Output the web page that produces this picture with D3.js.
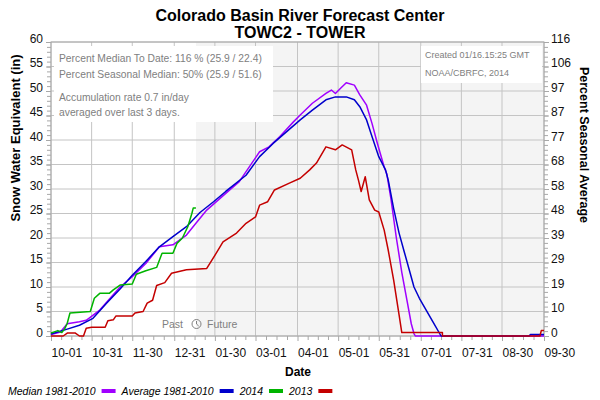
<!doctype html>
<html lang="en">
<head>
<meta charset="utf-8">
<title>Colorado Basin River Forecast Center - TOWC2</title>
<script src="https://cdn.jsdelivr.net/npm/d3@7"></script>
<style>
  body { margin: 0; background: #fff; }
  svg { display: block; font-family: "Liberation Sans", Arial, sans-serif; }
</style>
</head>
<body>
<svg id="chart" width="600" height="400"></svg>
<script>
// dates are water-year "MM-DD" (Oct-Dec = 2013, Jan-Sep = 2014)
var xTickLabels = ["10-01", "10-31", "11-30", "12-31", "01-30", "03-01", "04-01",
                   "05-01", "05-31", "07-01", "07-31", "08-30", "09-30"];
var leftTicks = [0, 5, 10, 15, 20, 25, 30, 35, 40, 45, 50, 55, 60];
var rightTickLabels = ["0", "10", "19", "29", "39", "48", "58", "68", "77", "87", "97", "106", "116"];
var today = "01-16";

var seriesNames = ["Median 1981-2010", "Average 1981-2010", "2014", "2013"];

var median = [
  ["10-01", 0.3], ["10-08", 0.8], ["10-13", 2.5], ["10-22", 2.9], ["10-27", 3.2],
  ["11-06", 5.3], ["11-21", 10.0], ["11-30", 12.1], ["12-10", 14.8], ["12-20", 18.2],
  ["12-30", 18.6], ["01-09", 20.6], ["01-16", 23.0], ["01-24", 25.7], ["02-07", 29.1],
  ["02-17", 31.5], ["03-04", 37.6], ["03-11", 38.6], ["03-19", 40.7], ["03-29", 43.7],
  ["04-03", 45.1], ["04-12", 47.5], ["04-22", 49.5], ["04-26", 50.2], ["04-29", 49.5],
  ["05-03", 50.6], ["05-07", 51.7], ["05-13", 51.2], ["05-17", 49.2], ["05-22", 47.1],
  ["05-26", 43.4], ["05-30", 39.3], ["06-04", 34.5], ["06-06", 33.0], ["06-09", 28.0],
  ["06-13", 20.0], ["06-17", 13.0], ["06-21", 7.0], ["06-24", 2.5], ["06-26", 0.5],
  ["06-27", 0], ["09-30", 0]
];

var average = [
  ["10-01", 0.4], ["10-13", 1.4], ["10-22", 2.2], ["11-01", 3.6], ["11-11", 6.7],
  ["11-21", 9.6], ["11-30", 12.4], ["12-10", 15.2], ["12-20", 18.2], ["12-30", 20.3],
  ["01-09", 22.3], ["01-19", 25.2], ["01-29", 27.4], ["02-07", 29.5], ["02-22", 32.8],
  ["03-04", 36.6], ["03-14", 39.3], ["03-24", 41.7], ["04-03", 44.1], ["04-12", 46.1],
  ["04-22", 48.2], ["04-29", 48.8], ["05-07", 48.8], ["05-13", 48.2], ["05-17", 46.8],
  ["05-22", 44.1], ["05-26", 40.7], ["05-31", 36.6], ["06-05", 33.9], ["06-07", 31.8],
  ["06-11", 26.0], ["06-15", 21.0], ["06-19", 17.0], ["06-23", 13.0], ["06-26", 10.0],
  ["06-30", 7.7], ["07-05", 5.3], ["07-10", 2.9], ["07-16", 0], ["09-19", 0],
  ["09-20", 0.3], ["09-30", 0.3]
];

var wy2014 = [
  ["10-01", 0.6], ["10-04", 0.9], ["10-06", 1.1], ["10-09", 0.7], ["10-11", 1.4],
  ["10-13", 2.6], ["10-15", 4.7], ["10-30", 5.0], ["11-02", 7.7], ["11-06", 8.7],
  ["11-13", 8.7], ["11-16", 9.4], ["11-21", 10.4], ["11-30", 10.6], ["12-03", 12.6],
  ["12-10", 13.3], ["12-18", 14.0], ["12-22", 16.9], ["12-30", 16.9], ["01-02", 18.9],
  ["01-06", 20.0], ["01-10", 22.3], ["01-13", 25.0], ["01-14", 26.1], ["01-16", 26.1]
];

var wy2013 = [
  ["10-01", 0], ["10-10", 0], ["10-13", 0.6], ["10-19", 0.6], ["10-22", 0],
  ["10-25", 0], ["10-27", 1.6], ["10-31", 1.8], ["11-10", 1.8], ["11-12", 3.1],
  ["11-16", 3.3], ["11-18", 4.1], ["11-30", 4.1], ["12-02", 4.7], ["12-08", 5.0],
  ["12-11", 6.7], ["12-15", 7.3], ["12-18", 10.3], ["12-24", 10.9], ["12-29", 12.8],
  ["01-09", 13.5], ["01-24", 13.8], ["01-31", 16.9], ["02-05", 19.2], ["02-15", 21.0],
  ["02-22", 23.0], ["03-01", 24.3], ["03-04", 26.7], ["03-10", 27.4], ["03-15", 29.8],
  ["03-26", 31.2], ["04-03", 32.2], ["04-10", 33.9], ["04-15", 35.3], ["04-22", 38.6],
  ["04-29", 38.0], ["05-04", 39.0], ["05-11", 38.0], ["05-14", 33.9], ["05-16", 31.8],
  ["05-18", 29.5], ["05-21", 32.5], ["05-24", 27.8], ["05-28", 25.7], ["05-31", 25.3],
  ["06-04", 21.6], ["06-07", 17.5], ["06-11", 11.4], ["06-15", 4.3], ["06-17", 0.7],
  ["07-17", 0.7], ["07-17", 0], ["09-27", 0], ["09-28", 1.1], ["09-30", 1.1]
];

function toDate(s) {
  var m = +s.slice(0, 2), d = +s.slice(3);
  return new Date(m >= 10 ? 2013 : 2014, m - 1, d);
}

var svg = d3.select("#chart");
var plotL = 51, plotR = 544, plotT = 42, plotB = 336;

var x = d3.scaleTime().domain([toDate("10-01"), toDate("09-30")]).range([plotL, plotR]);
var y = d3.scaleLinear().domain([0, 60]).range([plotB, plotT]);
var yRight = d3.scalePoint().domain(rightTickLabels).range([plotB, plotT]);

var gridColor = "#c4c4c4", frameColor = "#a8a8a8";

// future shading
svg.append("rect")
  .attr("x", x(toDate(today))).attr("y", plotT)
  .attr("width", plotR - x(toDate(today))).attr("height", plotB - plotT)
  .attr("fill", "#f4f4f4");

// grid
var xTicks = xTickLabels.map(toDate);
svg.append("g").selectAll("line").data(xTicks).join("line")
  .attr("x1", d => x(d)).attr("x2", d => x(d))
  .attr("y1", plotT).attr("y2", plotB)
  .attr("stroke", gridColor);
svg.append("g").selectAll("line").data(leftTicks).join("line")
  .attr("x1", plotL).attr("x2", plotR)
  .attr("y1", d => y(d)).attr("y2", d => y(d))
  .attr("stroke", gridColor);

// minor ticks
var minorX = [];
for (var i = 0; i < xTicks.length - 1; i++) {
  for (var k = 1; k < 4; k++) {
    minorX.push(new Date(+xTicks[i] + (xTicks[i + 1] - xTicks[i]) * k / 4));
  }
}
function styleAxis(g) {
  g.select(".domain").remove();
  g.selectAll(".tick line").attr("stroke", frameColor);
}
svg.append("g").attr("transform", "translate(0," + plotB + ")")
  .call(d3.axisBottom(x).tickValues(minorX).tickSize(4).tickFormat(""))
  .call(styleAxis);
svg.append("g").attr("transform", "translate(" + plotL + ",0)")
  .call(d3.axisLeft(y).tickValues(d3.range(0, 61)).tickSize(4).tickFormat(""))
  .call(styleAxis);
svg.append("g").attr("transform", "translate(" + plotR + ",0)")
  .call(d3.axisRight(y).tickValues(d3.range(0, 61)).tickSize(4).tickFormat(""))
  .call(styleAxis);

// major axes
svg.append("g").attr("transform", "translate(0," + plotB + ")")
  .call(d3.axisBottom(x).tickValues(xTicks).tickSize(5).tickFormat(d3.timeFormat("%m-%d")))
  .call(styleAxis)
  .call(g => g.selectAll(".tick text")
    .attr("text-anchor", "start").attr("x", 0).attr("y", 21).attr("dy", 0)
    .attr("font-size", 12).attr("font-family", null).attr("fill", "#111"));

svg.append("g").attr("transform", "translate(" + plotL + ",0)")
  .call(d3.axisLeft(y).tickValues(leftTicks).tickSize(5).tickPadding(3))
  .call(styleAxis)
  .call(g => g.selectAll(".tick text").attr("dy", 0)
    .attr("font-size", 12).attr("font-family", null).attr("fill", "#111"));

svg.append("g").attr("transform", "translate(" + plotR + ",0)")
  .call(d3.axisRight(yRight).tickSize(5).tickPadding(2))
  .call(styleAxis)
  .call(g => g.selectAll(".tick text").attr("dy", 0)
    .attr("font-size", 12).attr("font-family", null).attr("fill", "#111"));

// frame
svg.append("rect")
  .attr("x", plotL).attr("y", plotT).attr("width", plotR - plotL).attr("height", plotB - plotT)
  .attr("fill", "none").attr("stroke", frameColor);

// series
var colors = ["#a000ff", "#0000cc", "#00b400", "#c40000"];
var allSeries = [median, average, wy2014, wy2013];
var line = d3.line().x(d => x(toDate(d[0]))).y(d => y(d[1]));
svg.append("g").selectAll("path").data(allSeries).join("path")
  .attr("d", line)
  .attr("fill", "none")
  .attr("stroke", (d, i) => colors[i])
  .attr("stroke-width", 1.5)
  .attr("stroke-linejoin", "round");

// info boxes
svg.append("rect").attr("x", 54).attr("y", 46).attr("width", 219).attr("height", 76).attr("fill", "#fff");
var infoLeft = ["Percent Median To Date: 116 % (25.9 / 22.4)",
                "Percent Seasonal Median: 50% (25.9 / 51.6)",
                "Accumulation rate 0.7 in/day",
                "averaged over last 3 days."];
svg.append("g").selectAll("text").data(infoLeft).join("text")
  .attr("x", 59).attr("y", (d, i) => [62, 78, 101, 116][i])
  .attr("font-size", 10.3).attr("fill", "#808080")
  .text(d => d);

svg.append("rect").attr("x", 421).attr("y", 46).attr("width", 121).attr("height", 37).attr("fill", "#fff");
svg.append("g").selectAll("text")
  .data(["Created 01/16.15:25 GMT", "NOAA/CBRFC, 2014"]).join("text")
  .attr("x", 425).attr("y", (d, i) => 58 + i * 18)
  .attr("font-size", 9).attr("fill", "#808080")
  .text(d => d);

// past / future marker
svg.append("text").attr("x", 183).attr("y", 328).attr("text-anchor", "end")
  .attr("font-size", 10.5).attr("fill", "#808080").text("Past");
svg.append("text").attr("x", 207).attr("y", 328)
  .attr("font-size", 10.5).attr("fill", "#808080").text("Future");
var clock = svg.append("g").attr("transform", "translate(196.5,324)")
  .attr("stroke", "#808080").attr("fill", "none").attr("stroke-width", 1);
clock.append("circle").attr("r", 4.5);
clock.append("path").attr("d", "M0,-3V0L2.2,2");

// titles
svg.append("text").attr("x", 300).attr("y", 21).attr("text-anchor", "middle")
  .attr("font-size", 16).attr("font-weight", "bold").text("Colorado Basin River Forecast Center");
svg.append("text").attr("x", 300).attr("y", 38).attr("text-anchor", "middle")
  .attr("font-size", 16).attr("font-weight", "bold").text("TOWC2 - TOWER");
svg.append("text").attr("x", 298).attr("y", 376).attr("text-anchor", "middle")
  .attr("font-size", 12).attr("font-weight", "bold").text("Date");
svg.append("text").attr("transform", "translate(20,138) rotate(-90)").attr("text-anchor", "middle")
  .attr("font-size", 13).attr("font-weight", "bold").text("Snow Water Equivalent (in)");
svg.append("text").attr("transform", "translate(580,145) rotate(90)").attr("text-anchor", "middle")
  .attr("font-size", 12.5).attr("font-weight", "bold").text("Percent Seasonal Average");

// legend
var lx = 8;
seriesNames.forEach(function(name, i) {
  var t = svg.append("text").attr("x", lx).attr("y", 395)
    .attr("font-size", 10.5).attr("font-style", "italic").text(name);
  lx += t.node().getComputedTextLength() + 6;
  svg.append("rect").attr("x", lx).attr("y", 389).attr("width", 14).attr("height", 4)
    .attr("fill", colors[i]);
  lx += 14 + 6;
});
</script>
</body>
</html>
